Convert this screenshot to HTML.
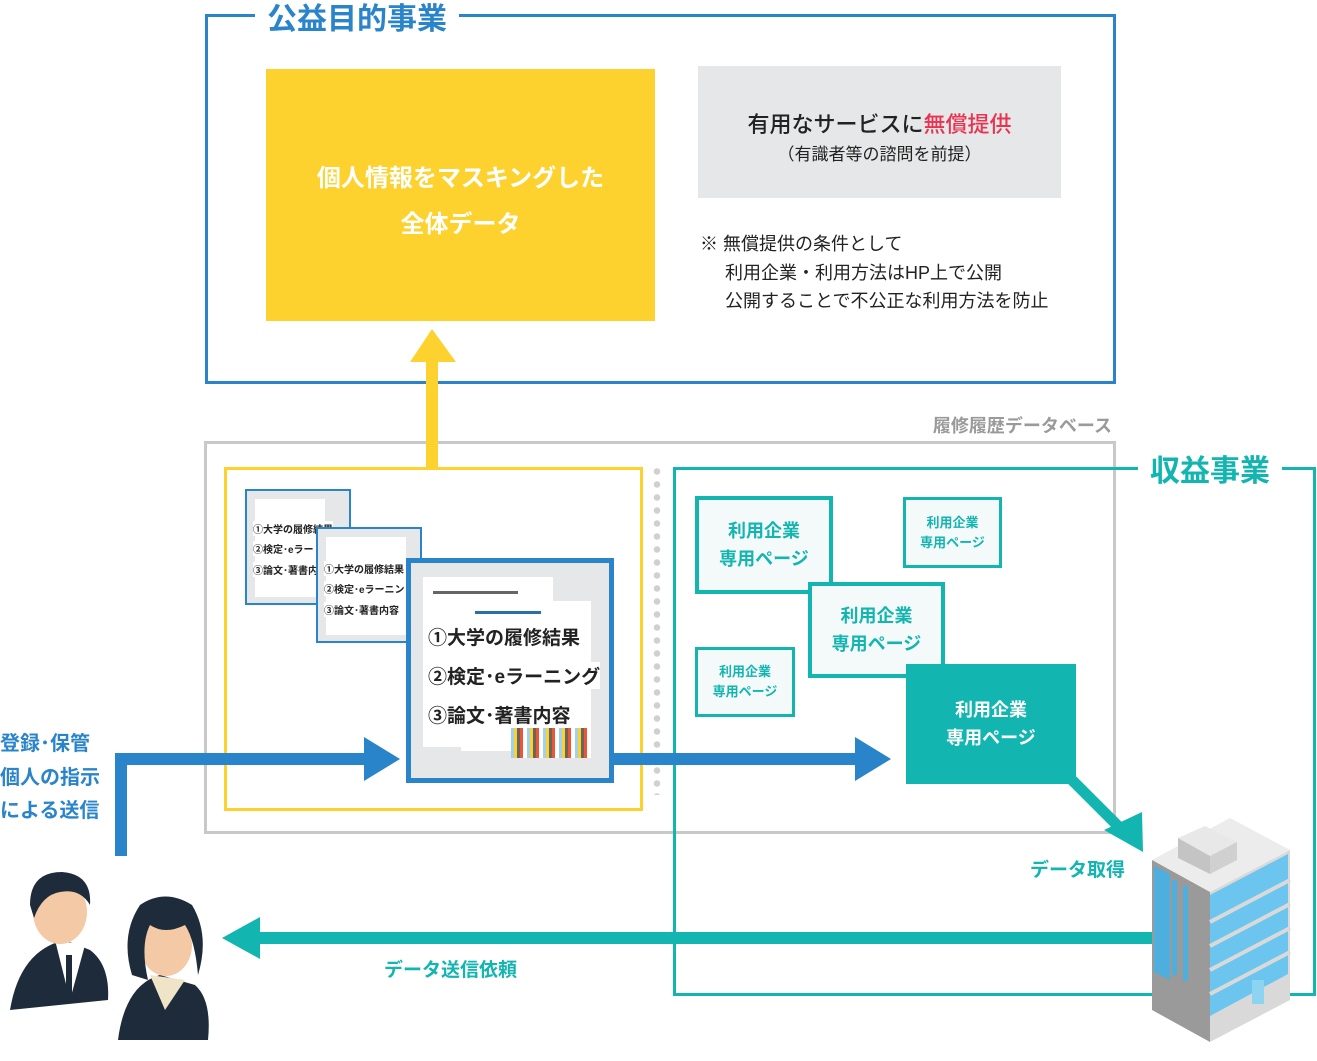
<!DOCTYPE html>
<html><head><meta charset="utf-8"><style>
body{margin:0;width:1317px;height:1061px;background:#fff;position:relative;overflow:hidden;font-family:"Liberation Sans","Noto Sans CJK JP",sans-serif}
.a{position:absolute}
.t{position:absolute;white-space:nowrap}
.tb{border:4px solid #13b5b1;background:#f4f9f9;color:#13b5b1;font-weight:bold;display:flex;align-items:center;justify-content:center;text-align:center;box-sizing:border-box;position:absolute}
.doc{position:absolute;border:2px solid #2a84c9;background:#e6e7e8;box-sizing:border-box;overflow:hidden}
.doc .in{position:absolute;background:#fff}
.doc .l{font-weight:bold;color:#222;position:absolute;white-space:nowrap;background:#fff}
</style></head><body>
<div class="a" style="left:205px;top:14px;width:905px;height:364px;border:3px solid #2a84c9"></div>
<div class="t" style="left:255px;top:-6px;background:#fff;padding:0 12px;color:#2a84c9;font-size:30px;font-weight:bold">公益目的事業</div>
<div class="a" style="left:266px;top:69px;width:389px;height:252px;background:#fdd22f"></div>
<div class="t" style="left:266px;top:156px;width:389px;text-align:center;color:#fff;font-size:24px;font-weight:bold;line-height:46px;white-space:normal">個人情報をマスキングした<br>全体データ</div>
<div class="a" style="left:698px;top:66px;width:363px;height:132px;background:#e6e7e8"></div>
<div class="t" style="left:698px;top:107px;width:363px;text-align:center;font-size:22px;color:#222;font-weight:500">有用なサービスに<span style="color:#e83450">無償提供</span></div>
<div class="t" style="left:698px;top:140px;width:363px;text-align:center;font-size:17px;color:#222">（有識者等の諮問を前提）</div>
<div class="t" style="left:700px;top:230px;font-size:18px;color:#222;line-height:28.5px">※ 無償提供の条件として<br>&nbsp;&nbsp;&nbsp;&nbsp;&nbsp;利用企業・利用方法はHP上で公開<br>&nbsp;&nbsp;&nbsp;&nbsp;&nbsp;公開することで不公正な利用方法を防止</div>

<div class="a" style="left:204px;top:441px;width:906px;height:387px;border:3px solid #c8c8c8"></div>
<div class="t" style="left:880px;top:412px;width:232px;text-align:right;font-size:18px;color:#9a9a9a;font-weight:bold">履修履歴データベース</div>
<div class="a" style="left:224px;top:467px;width:413px;height:338px;border:3px solid #fdd22f"></div>
<div class="a" style="left:653px;top:465px;width:8px;height:330px;background:radial-gradient(circle,#d0d0d0 3px,transparent 3.5px) 0 0/8px 13px repeat-y"></div>
<div class="a" style="left:673px;top:467px;width:637px;height:523px;border:3px solid #13b5b1"></div>
<div class="t" style="left:1138px;top:446px;background:#fff;padding:0 12px;color:#13b5b1;font-size:30px;font-weight:bold">収益事業</div>
<div class="tb" style="left:695px;top:496px;width:138px;height:98px;font-size:18px;line-height:28px">利用企業<br>専用ページ</div>
<div class="tb" style="left:903px;top:497px;width:99px;height:71px;font-size:13px;line-height:20px;border-width:3px">利用企業<br>専用ページ</div>
<div class="tb" style="left:808px;top:582px;width:137px;height:96px;font-size:18px;line-height:28px">利用企業<br>専用ページ</div>
<div class="tb" style="left:695px;top:647px;width:100px;height:70px;font-size:13px;line-height:20px;border-width:3px">利用企業<br>専用ページ</div>
<div class="tb" style="left:906px;top:664px;width:170px;height:120px;font-size:18px;line-height:28px;background:#13b5b1;color:#fff;border:none">利用企業<br>専用ページ</div>

<svg class="a" style="left:0;top:0" width="1317" height="1061">
<rect x="426" y="358" width="12" height="110" fill="#fdd22f"/>
<polygon points="410,362 432,329 456,362" fill="#fdd22f"/>
<path d="M121 856 V759 H370" stroke="#2a84c9" stroke-width="12" fill="none"/>
<polygon points="364,737 400,759 364,781" fill="#2a84c9"/>
<rect x="600" y="753" width="260" height="12" fill="#2a84c9"/>
<polygon points="855,737 891,759 855,781" fill="#2a84c9"/>
<line x1="1070" y1="778" x2="1125" y2="833" stroke="#13b5b1" stroke-width="11"/>
<polygon points="1104,830 1142,812 1143,852" fill="#13b5b1"/>
<rect x="255" y="932" width="900" height="12" fill="#13b5b1"/>
<polygon points="260,917 222,938 260,959" fill="#13b5b1"/>
<polygon points="1152,860 1230,818 1290,850 1210,892" fill="#ececec"/>
<polygon points="1152,860 1210,892 1210,1042 1152,1010" fill="#9a9a9a"/>
<polygon points="1210,892 1290,850 1290,1000 1210,1042" fill="#d9d9d9"/>
<polygon points="1210,895 1288,854 1288,974 1210,1016" fill="#5ec2ef" opacity=".9"/>
<g stroke="#d9d9d9" stroke-width="4"><line x1="1210" y1="922" x2="1290" y2="880"/><line x1="1210" y1="946" x2="1290" y2="904"/><line x1="1210" y1="970" x2="1290" y2="928"/><line x1="1210" y1="994" x2="1290" y2="952"/></g>
<polygon points="1154,866 1170,874 1170,980 1154,972" fill="#4eaede"/>
<rect x="1172" y="880" width="5" height="95" fill="#4eaede"/><rect x="1183" y="886" width="5" height="95" fill="#4eaede"/>
<polygon points="1178,838 1205,826 1237,842 1210,856" fill="#e8e8e8"/>
<polygon points="1178,838 1210,856 1210,874 1178,858" fill="#c4c4c4"/>
<polygon points="1210,856 1237,842 1237,860 1210,874" fill="#d0d0d0"/>
<rect x="1252" y="980" width="12" height="24" fill="#8dd3f2"/>
<g>
<path d="M10 1010 Q20 950 65 940 L90 950 Q110 965 108 1000 Z" fill="#1d2b3a"/>
<path d="M55 940 L70 1000 L85 945 Z" fill="#fff"/>
<rect x="66" y="955" width="6" height="45" fill="#1d2b3a"/>
<ellipse cx="60" cy="912" rx="27" ry="32" fill="#f3c9a6"/>
<path d="M30 905 Q30 872 62 872 Q92 874 90 905 Q80 888 60 892 Q42 895 34 918 Z" fill="#1d2b3a"/>
<path d="M118 1040 Q125 985 160 975 L195 985 Q212 1000 208 1040 Z" fill="#1d2b3a"/>
<path d="M150 975 L165 1010 L185 980 Z" fill="#f0e4c8"/>
<ellipse cx="166" cy="945" rx="26" ry="31" fill="#f3c9a6"/>
<path d="M132 975 Q120 935 140 905 Q165 888 192 905 Q210 935 198 975 Q195 940 185 925 Q165 935 150 925 Q140 945 148 980 Z" fill="#1d2b3a"/>
</g>
</svg>

<div class="doc" style="left:245px;top:489px;width:106px;height:116px">
<div class="in" style="left:8px;top:8px;width:70px;height:98px"></div>
<div class="l" style="left:6px;top:30px;font-size:10px">①大学の履修結果</div>
<div class="l" style="left:6px;top:50px;font-size:10px">②検定･eラー</div>
<div class="l" style="left:6px;top:71px;font-size:10px">③論文･著書内</div></div>
<div class="doc" style="left:316px;top:527px;width:106px;height:116px">
<div class="in" style="left:8px;top:8px;width:80px;height:98px"></div>
<div class="l" style="left:6px;top:32px;font-size:10px">①大学の履修結果</div>
<div class="l" style="left:6px;top:52px;font-size:10px">②検定･eラーニン</div>
<div class="l" style="left:6px;top:73px;font-size:10px">③論文･著書内容</div></div>
<div class="doc" style="left:406px;top:558px;width:208px;height:225px;border-width:5px">
<div class="in" style="left:12px;top:14px;width:130px;height:170px"></div>
<div class="in" style="left:50px;top:38px;width:130px;height:150px"></div>
<div class="a" style="left:22px;top:28px;width:85px;height:3px;background:#666"></div>
<div class="a" style="left:64px;top:48px;width:66px;height:3px;background:#2a6fa5"></div>
<div class="l" style="left:17px;top:60px;font-size:19px">①大学の履修結果</div>
<div class="l" style="left:17px;top:99px;font-size:19px">②検定･eラーニング</div>
<div class="l" style="left:17px;top:138px;font-size:19px">③論文･著書内容</div>
<div class="a" style="left:100px;top:165px;width:80px;height:30px;background:repeating-linear-gradient(90deg,#9fd2ef 0 3px,#fdd22f 3px 6px,#666 6px 9px,#e53 9px 12px,#fff 12px 16px)"></div>
</div>

<div class="t" style="left:0;top:728px;font-size:20px;font-weight:bold;color:#2a84c9;line-height:33.5px">登録･保管<br>個人の指示<br>による送信</div>
<div class="t" style="left:1030px;top:855px;font-size:19px;font-weight:bold;color:#13b5b1">データ取得</div>
<div class="t" style="left:384px;top:955px;font-size:19px;font-weight:bold;color:#13b5b1">データ送信依頼</div>
</body></html>
